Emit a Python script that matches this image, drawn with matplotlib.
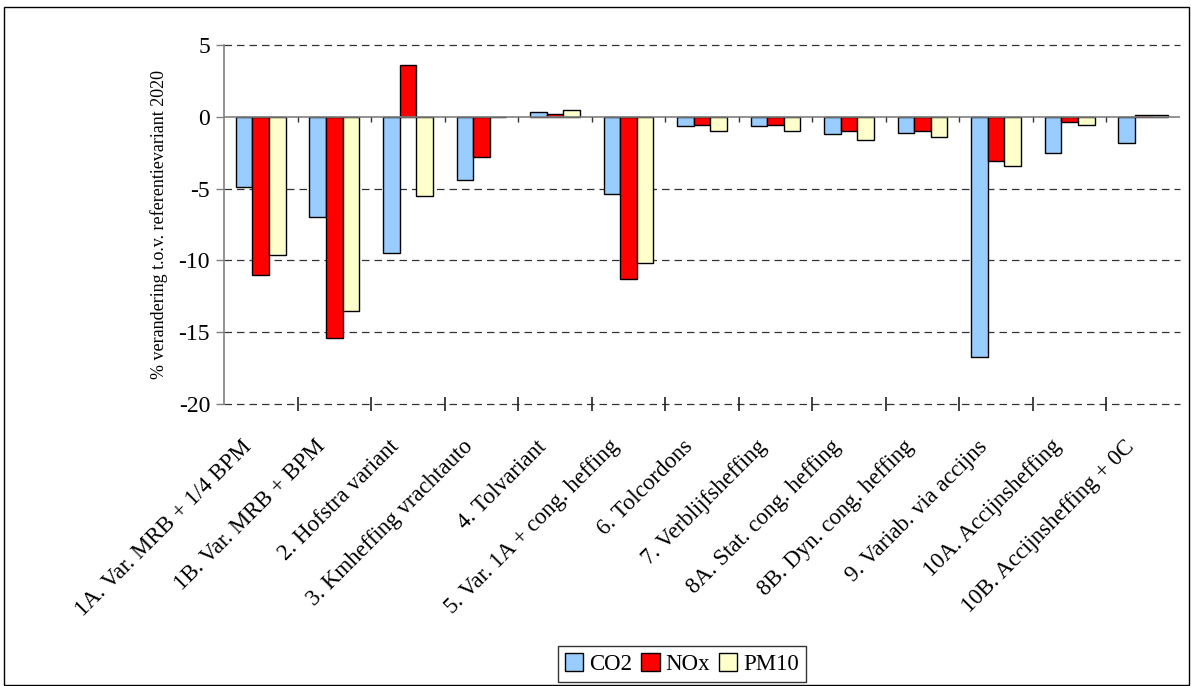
import matplotlib
matplotlib.use("Agg")
import matplotlib.pyplot as plt
from matplotlib.patches import Rectangle
from matplotlib.transforms import ScaledTranslation
import numpy as np

plt.rcParams['font.family'] = ['Liberation Serif', 'DejaVu Serif']
plt.rcParams['axes.unicode_minus'] = False

# categorieën en procentuele verandering per stof
categories = [
    "1A. Var. MRB + 1/4 BPM",
    "1B. Var. MRB + BPM",
    "2. Hofstra variant",
    "3. Kmheffing vrachtauto",
    "4. Tolvariant",
    "5. Var. 1A + cong. heffing",
    "6. Tolcordons",
    "7. Verblijfsheffing",
    "8A. Stat. cong. heffing",
    "8B. Dyn. cong. heffing",
    "9. Variab. via accijns",
    "10A. Accijnsheffing",
    "10B. Accijnsheffing + 0C",
]
co2 = [-4.9, -7.0, -9.5, -4.4, 0.3, -5.4, -0.65, -0.65, -1.2, -1.1, -16.7, -2.5, -1.85]
nox = [-11.0, -15.4, 3.6, -2.8, 0.2, -11.3, -0.55, -0.55, -1.0, -1.0, -3.1, -0.35, 0.1]
pm10 = [-9.6, -13.5, -5.5, 0.0, 0.45, -10.2, -1.0, -1.0, -1.6, -1.4, -3.45, -0.55, 0.1]
yticks = [5, 0, -5, -10, -15, -20]

W, H = 1191, 686
fig = plt.figure(figsize=(W / 100, H / 100), dpi=100)
ax = fig.add_axes([224 / W, 1 - 404 / H, 956 / W, 359 / H])

x = np.arange(len(categories))
bw = 0.225
ax.bar(x - bw, co2, bw, color='#99CCFF', edgecolor='black', lw=1, label='CO2', zorder=3)
ax.bar(x, nox, bw, color='#FF0000', edgecolor='black', lw=1, label='NOx', zorder=3)
ax.bar(x + bw, pm10, bw, color='#FFFFCC', edgecolor='black', lw=1, label='PM10', zorder=3)

ax.set_xlim(-0.5, len(categories) - 0.5)
ax.set_ylim(-20, 5)

# gestippelde rasterlijnen, doorgetrokken nullijn
for v in yticks:
    if v != 0:
        ax.axhline(v, color='#333333', lw=0.9, ls=(0, (6, 4)), zorder=1, clip_on=False)
ax.axhline(0, color='#808080', lw=1.2, zorder=4)
# kleine streepjes op de nullijn tussen de categorieën
ax.vlines(x[:-1] + 0.5, -0.35, 0, color='#333333', lw=1, zorder=4)

for s in ['top', 'right', 'bottom']:
    ax.spines[s].set_visible(False)
ax.spines['left'].set_color('#808080')
ax.spines['left'].set_linewidth(1.2)

ax.set_yticks(yticks)
ax.tick_params(axis='y', length=6, width=1, color='#808080', labelsize=17, pad=4)

ax.set_xticks(x)
ax.set_xticklabels(categories, rotation=45, ha='right', va='center',
                   rotation_mode='anchor', fontsize=16.5)
ax.tick_params(axis='x', which='major', length=0, pad=27)
# labels iets naar links schuiven
shift = ScaledTranslation(-0.12, -0.02, fig.dpi_scale_trans)
for lbl in ax.get_xticklabels():
    lbl.set_transform(lbl.get_transform() + shift)
ax.set_xticks(x[:-1] + 0.5, minor=True)
ax.tick_params(axis='x', which='minor', direction='inout', length=10, width=1.2,
               color='#222222')

ax.set_ylabel('% verandering t.o.v. referentievariant 2020', fontsize=13, labelpad=8)

fig.legend(loc='center', bbox_to_anchor=(682 / W, 1 - 664 / H), ncol=3,
           fontsize=16.5, frameon=True, fancybox=False, edgecolor='black',
           handlelength=0.8, handleheight=0.8, handletextpad=0.25,
           columnspacing=0.4, borderpad=0.3, borderaxespad=0)

# rand om het hele diagram
fig.patches.append(Rectangle((4 / W, 1 / H), 1185 / W, 678 / H, transform=fig.transFigure,
                             fill=False, edgecolor='black', lw=1))

fig.savefig('out.png', dpi=100)
